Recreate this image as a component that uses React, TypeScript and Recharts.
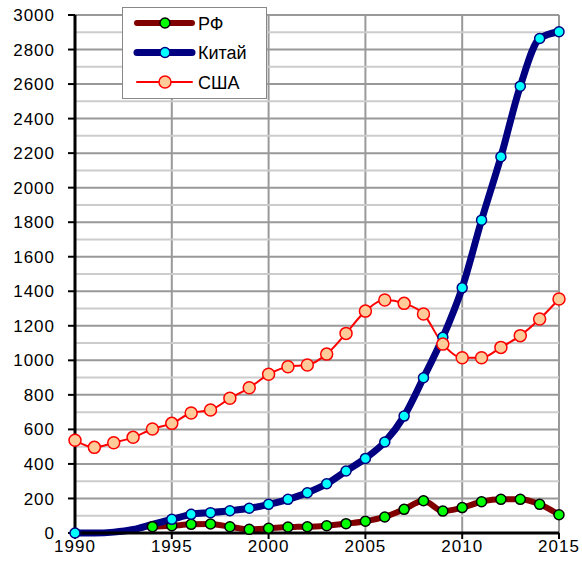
import { LineChart, Line, XAxis, YAxis, CartesianGrid, ReferenceLine } from 'recharts';

const years = [1990, 1991, 1992, 1993, 1994, 1995, 1996, 1997, 1998, 1999, 2000, 2001, 2002, 2003, 2004, 2005, 2006, 2007, 2008, 2009, 2010, 2011, 2012, 2013, 2014, 2015];
const rf = [null, null, null, null, 36, 42, 50, 52, 36, 21, 27, 35, 36, 42, 54, 68, 93, 137, 187, 127, 147, 181, 195, 195, 166, 106];
const china = [0, 0, 5, 20, 50, 79, 108, 118, 129, 143, 166, 195, 233, 285, 359, 432, 527, 677, 899, 1133, 1420, 1812, 2179, 2588, 2864, 2903];
const usa = [537, 496, 523, 554, 602, 635, 695, 712, 780, 841, 919, 963, 973, 1036, 1156, 1285, 1349, 1330, 1268, 1094, 1015, 1015, 1075, 1143, 1239, 1355];
// years where the China series shows no marker
const chinaNoMarker = [1991, 1992, 1993, 1994];

const xTicks = [1990, 1995, 2000, 2005, 2010, 2015];
const yTicks = [0, 200, 400, 600, 800, 1000, 1200, 1400, 1600, 1800, 2000, 2200, 2400, 2600, 2800, 3000];
const minorY = [100, 300, 500, 700, 900, 1100, 1300, 1500, 1700, 1900, 2100, 2300, 2500, 2700, 2900];

const seriesNames = ['РФ', 'Китай', 'США'];

const data = years.map((year, i) => ({ year, rf: rf[i], china: china[i], usa: usa[i] }));

const FONT = 'Arial, "Liberation Sans", sans-serif';

const styles = [
  { line: '#800000', width: 6, fill: '#00ff00', dotStroke: '#000000', r: 5 },
  { line: '#000080', width: 7, fill: '#00ffff', dotStroke: '#000080', r: 5 },
  { line: '#ff0000', width: 2, fill: '#ffcc99', dotStroke: '#ff0000', r: 6 },
];

const makeDot = (s: typeof styles[number], skip: number[] = []) => (props: any) => {
  const { cx, cy, payload, index } = props;
  if (cy == null || cx == null || skip.includes(payload.year)) return <g key={`d-${index}`} />;
  return <circle key={`d-${index}`} cx={cx} cy={cy} r={s.r} fill={s.fill} stroke={s.dotStroke} strokeWidth={1.5} />;
};

const LegendBox = () => (
  <svg width={145} height={92} style={{ display: 'block' }}>
    <rect x={0.5} y={0.5} width={144} height={91} fill="#fff" stroke="#888" strokeWidth={1} />
    {seriesNames.map((name, i) => {
      const s = styles[i];
      const cy = 16 + i * 29.5;
      return (
        <g key={name}>
          <line x1={15} x2={70} y1={cy} y2={cy} stroke={s.line} strokeWidth={s.width} strokeLinecap="round" />
          <circle cx={43} cy={cy} r={s.r} fill={s.fill} stroke={s.dotStroke} strokeWidth={1.5} />
          <text x={76} y={cy + 6.5} fontSize={18} fontFamily={FONT} fill="#000">{name}</text>
        </g>
      );
    })}
  </svg>
);

export default function App() {
  const tickStyle = { fontSize: 17, fill: '#000', fontFamily: FONT, letterSpacing: 1 };
  return (
    <div style={{ position: 'absolute', left: 0, top: 0, width: 582, height: 562, background: '#fff', fontFamily: FONT }}>
      <LineChart width={582} height={562} data={data} margin={{ top: 15, right: 23, bottom: 0, left: 0 }} style={{ fontFamily: FONT }}>
        <CartesianGrid stroke="#999" strokeWidth={2} />
        {minorY.map(v => (
          <ReferenceLine key={v} y={v} stroke="#cccccc" strokeWidth={2} />
        ))}
        <XAxis
          dataKey="year"
          type="number"
          domain={[1990, 2015]}
          ticks={xTicks}
          height={29}
          tick={tickStyle}
          tickSize={6}
          tickMargin={1}
          axisLine={{ stroke: '#000', strokeWidth: 3 }}
          tickLine={{ stroke: '#000', strokeWidth: 2 }}
        />
        <YAxis
          domain={[0, 3000]}
          ticks={yTicks}
          width={75}
          tick={tickStyle}
          tickSize={7}
          tickMargin={13}
          interval={0}
          axisLine={{ stroke: '#000', strokeWidth: 3 }}
          tickLine={{ stroke: '#000', strokeWidth: 2 }}
        />
        <Line
          type="monotone"
          dataKey="rf"
          name={seriesNames[0]}
          stroke={styles[0].line}
          strokeWidth={styles[0].width}
          dot={makeDot(styles[0])}
          activeDot={false}
          isAnimationActive={false}
        />
        <Line
          type="monotone"
          dataKey="china"
          name={seriesNames[1]}
          stroke={styles[1].line}
          strokeWidth={styles[1].width}
          dot={makeDot(styles[1], chinaNoMarker)}
          activeDot={false}
          isAnimationActive={false}
        />
        <Line
          type="monotone"
          dataKey="usa"
          name={seriesNames[2]}
          stroke={styles[2].line}
          strokeWidth={styles[2].width}
          dot={makeDot(styles[2])}
          activeDot={false}
          isAnimationActive={false}
        />
      </LineChart>
      <div style={{ position: 'absolute', left: 122, top: 7 }}>
        <LegendBox />
      </div>
    </div>
  );
}
